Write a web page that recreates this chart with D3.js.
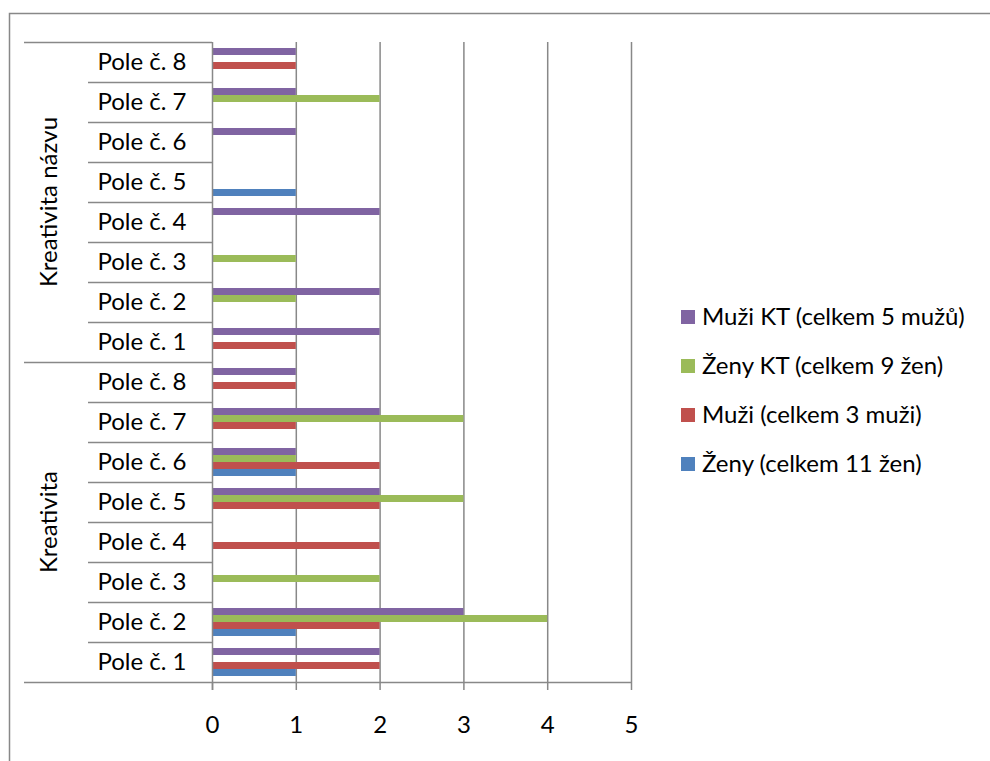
<!DOCTYPE html>
<html>
<head>
<meta charset="utf-8">
<script src="https://cdn.jsdelivr.net/npm/d3@7"></script>
<style>
  html, body { margin: 0; padding: 0; background: #fff; }
  svg { display: block; font-family: Lato, "Open Sans", sans-serif; }
</style>
</head>
<body>
<svg id="chart" width="990" height="761"></svg>
<script>
// ---- Data ----
const groups = ["Kreativita názvu", "Kreativita"];
const fields = ["Pole č. 8", "Pole č. 7", "Pole č. 6", "Pole č. 5", "Pole č. 4", "Pole č. 3", "Pole č. 2", "Pole č. 1"];
const seriesNames = ["Muži KT (celkem 5 mužů)", "Ženy KT (celkem 9 žen)", "Muži (celkem 3 muži)", "Ženy (celkem 11 žen)"];
const seriesColors = ["#8064A2", "#9BBB59", "#C0504D", "#4F81BD"];
// values per field, order Pole č. 8 ... Pole č. 1
const nazvuMuziKT  = [1, 1, 1, 0, 2, 0, 2, 2];
const nazvuZenyKT  = [0, 2, 0, 0, 0, 1, 1, 0];
const nazvuMuzi    = [1, 0, 0, 0, 0, 0, 0, 1];
const nazvuZeny    = [0, 0, 0, 1, 0, 0, 0, 0];
const kreaMuziKT   = [1, 2, 1, 2, 0, 0, 3, 2];
const kreaZenyKT   = [0, 3, 1, 3, 0, 2, 4, 0];
const kreaMuzi     = [1, 1, 2, 2, 2, 0, 2, 2];
const kreaZeny     = [0, 0, 1, 0, 0, 0, 1, 1];
const xTicks = [0, 1, 2, 3, 4, 5];

// ---- Build rows ----
const groupValues = [
  [nazvuMuziKT, nazvuZenyKT, nazvuMuzi, nazvuZeny],
  [kreaMuziKT, kreaZenyKT, kreaMuzi, kreaZeny]
];
const rows = [];
groups.forEach((g, gi) => {
  fields.forEach((f, fi) => {
    rows.push({
      key: g + "|" + f, group: g, field: f,
      values: seriesNames.map((s, si) => ({ series: s, value: groupValues[gi][si][fi] }))
    });
  });
});

const svg = d3.select("#chart");
const plotLeft = 212, plotRight = 631, plotTop = 42, plotBottom = 682;
const gridColor = "#888888";
const fontSize = "24px";

// outer border (extends past the viewport on right/bottom)
svg.append("rect")
  .attr("x", 9.5).attr("y", 13.5).attr("width", 1100).attr("height", 900)
  .attr("fill", "none").attr("stroke", "#888888").attr("stroke-width", 1.5);

const x = d3.scaleLinear().domain([0, 5]).range([plotLeft, plotRight]);
const y = d3.scaleBand().domain(rows.map(r => r.key)).range([plotTop, plotBottom]).padding(0);
const yInner = d3.scaleBand().domain(seriesNames).range([6, y.bandwidth() - 6]).padding(0);
const color = d3.scaleOrdinal().domain(seriesNames).range(seriesColors);

// vertical gridlines
svg.append("g").selectAll("line")
  .data(xTicks.filter(t => t > 0))
  .join("line")
  .attr("x1", d => x(d) + 0.5).attr("x2", d => x(d) + 0.5)
  .attr("y1", plotTop).attr("y2", plotBottom)
  .attr("stroke", gridColor).attr("stroke-width", 1.5);

// bars
const rowG = svg.append("g").selectAll("g")
  .data(rows).join("g")
  .attr("transform", d => `translate(0,${y(d.key)})`);
rowG.selectAll("rect")
  .data(d => d.values.filter(v => v.value > 0))
  .join("rect")
  .attr("x", x(0))
  .attr("y", d => yInner(d.series))
  .attr("width", d => x(d.value) - x(0))
  .attr("height", yInner.bandwidth())
  .attr("fill", d => color(d.series));

// x axis
const xAxis = d3.axisBottom(x).tickValues(xTicks).tickSize(8).tickFormat(d3.format("d"));
const xg = svg.append("g").attr("transform", `translate(0,${plotBottom})`).call(xAxis);
xg.select(".domain").remove();
xg.selectAll(".tick line").attr("stroke", gridColor).attr("stroke-width", 1.5).attr("y1", 0);
xg.selectAll(".tick text")
  .attr("y", 43).attr("dy", "0.35em")
  .attr("fill", "#000").style("font-size", fontSize).style("font-family", "Lato, sans-serif");

// bottom axis line (extends left under the category columns)
svg.append("line")
  .attr("x1", 24).attr("x2", plotRight + 1)
  .attr("y1", plotBottom + 0.5).attr("y2", plotBottom + 0.5)
  .attr("stroke", gridColor).attr("stroke-width", 1.5);
// vertical axis line
svg.append("line")
  .attr("x1", plotLeft + 0.5).attr("x2", plotLeft + 0.5)
  .attr("y1", plotTop).attr("y2", plotBottom + 8)
  .attr("stroke", gridColor).attr("stroke-width", 1.5);

// category boundary lines
svg.append("g").selectAll("line")
  .data(d3.range(rows.length))
  .join("line")
  .attr("x1", i => (i % fields.length === 0) ? 24 : 88)
  .attr("x2", plotLeft)
  .attr("y1", i => y(rows[i].key) + 0.5)
  .attr("y2", i => y(rows[i].key) + 0.5)
  .attr("stroke", gridColor).attr("stroke-width", 1.5);

// category labels
svg.append("g").selectAll("text")
  .data(rows).join("text")
  .attr("x", 142)
  .attr("y", d => y(d.key) + y.bandwidth() / 2)
  .attr("dy", "0.35em")
  .attr("text-anchor", "middle")
  .style("font-size", fontSize)
  .text(d => d.field);

// group labels (rotated)
svg.append("g").selectAll("text")
  .data(groups).join("text")
  .attr("transform", (g) => {
    const keys = rows.filter(r => r.group === g).map(r => r.key);
    const cy = (y(keys[0]) + y(keys[keys.length - 1]) + y.bandwidth()) / 2;
    return `translate(49,${cy}) rotate(-90)`;
  })
  .attr("dy", "0.35em")
  .attr("text-anchor", "middle")
  .style("font-size", fontSize)
  .text(d => d);

// legend
const legendY = [317, 366, 415, 464];
const lg = svg.append("g").selectAll("g")
  .data(seriesNames).join("g")
  .attr("transform", (d, i) => `translate(681,${legendY[i]})`);
lg.append("rect").attr("x", 0).attr("y", -7).attr("width", 14).attr("height", 14)
  .attr("fill", d => color(d));
lg.append("text").attr("x", 21).attr("dy", "0.35em")
  .style("font-size", fontSize).text(d => d);
</script>
</body>
</html>
